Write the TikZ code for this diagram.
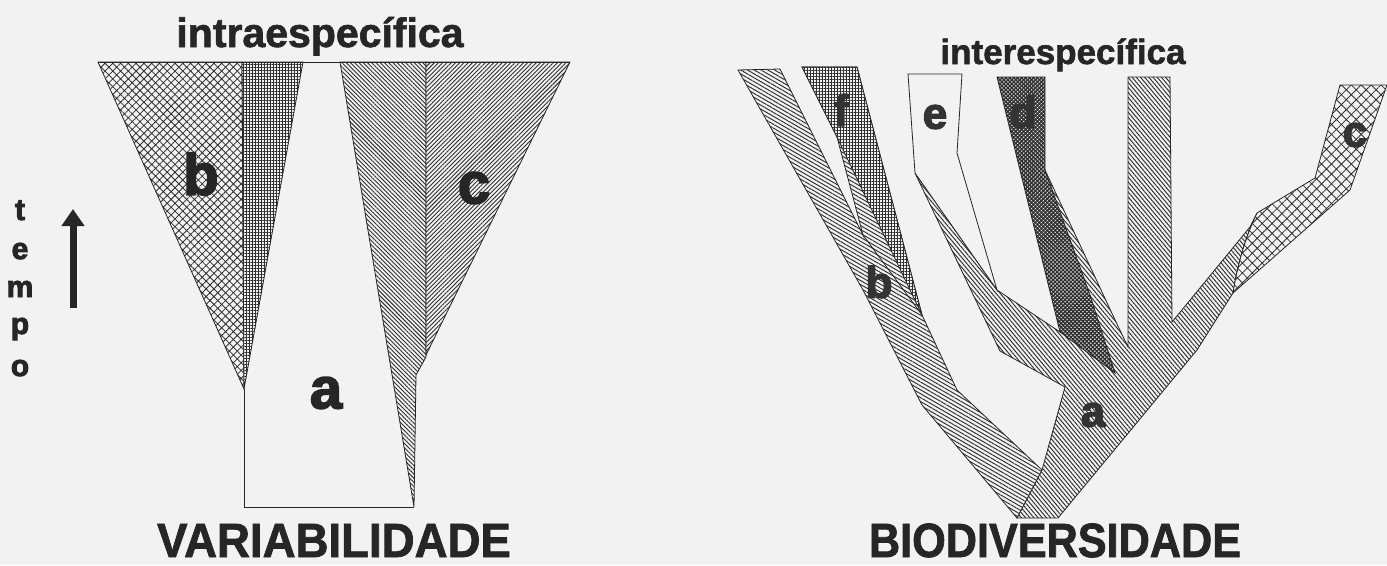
\documentclass[tikz,border=0pt]{standalone}
\usepackage{fontspec}
\setmainfont{Liberation Sans}
\newfontfamily\heavyfont{Liberation Sans}[BoldFeatures={FakeBold=1.6}]
\newfontfamily\blackfont{Liberation Sans}[BoldFeatures={FakeBold=3}]
\usetikzlibrary{patterns.meta,arrows.meta}
\definecolor{ink}{gray}{0.15}
\definecolor{paper}{gray}{0.95}
\definecolor{hatchc}{gray}{0.18}
\tikzset{
  outl/.style={draw=ink, line width=0.8pt, line join=miter},
  pat/.style={outl, preaction={fill=paper}, pattern color=hatchc},
  crossB/.style={pat, pattern={Hatch[angle=45,distance=5.5pt,line width=0.8pt]}},
  gridF/.style={pat, pattern={Hatch[angle=0,distance=3pt,line width=0.9pt]}},
  hatchL/.style={pat, pattern={Lines[angle=-45,distance=3pt,line width=0.9pt]}},
  hatchR/.style={pat, pattern={Lines[angle=45,distance=3pt,line width=0.9pt]}},
  hatchB/.style={pat, pattern={Lines[angle=-30,distance=3.4pt,line width=0.95pt]}},
  hatchA/.style={pat, pattern={Lines[angle=-50,distance=3.2pt,line width=0.95pt]}},
  darkD/.style={pat, pattern={Hatch[angle=45,distance=2.8pt,line width=1.4pt]}},
  crossC/.style={pat, pattern={Hatch[angle=45,distance=7pt,line width=0.8pt]}},
  whiteE/.style={outl, fill=paper},
  bigtitle/.style={anchor=base, inner sep=0pt, text=ink, font=\heavyfont\bfseries\fontsize{48}{48}\selectfont},
  subtitle/.style={anchor=base, inner sep=0pt, text=ink},
  lbl/.style={inner sep=0pt, text=ink, font=\blackfont\bfseries\fontsize{58}{58}\selectfont},
  rlbl/.style={inner sep=0pt, text=black!80, font=\blackfont\bfseries\fontsize{44}{44}\selectfont},
  tletter/.style={anchor=base, inner sep=0pt, text=ink, font=\blackfont\bfseries\fontsize{30}{30}\selectfont},
}
\begin{document}
\begin{tikzpicture}[x=1pt,y=-1pt]
\useasboundingbox (0,0) rectangle (1387,565);
\fill[paper] (0,0) rectangle (1387,565);

% ---------------- left panel: VARIABILIDADE ----------------
\draw[crossB] (98,62) -- (242,62) -- (244,389) -- cycle;
\draw[gridF] (242,62) -- (303,62) -- (244,389) -- cycle;
\draw[hatchL] (340,62) -- (426,62) -- (426,357) -- (416,375) -- (414,507) -- cycle;
\draw[hatchR] (426,62) -- (570,62) -- (426,355) -- cycle;
\draw[outl] (98,62) -- (570,62);
\draw[outl] (244,389) -- (244,507) -- (414,507);

\node[subtitle, font=\heavyfont\bfseries\fontsize{41}{41}\selectfont] (intra) at (320,47) {intraespecífica};
\node[bigtitle, xscale=0.95] (varia) at (334,557) {VARIABILIDADE};
\node[lbl] (lb) at (201,174) {b};
\node[lbl] (lc) at (474,188) {c};
\node[lbl] (la) at (326,393) {a};

\node[tletter] (t1) at (20,220) {t};
\node[tletter] (t2) at (20,259) {e};
\node[tletter] (t3) at (20,297) {m};
\node[tletter] (t4) at (20,334) {p};
\node[tletter] (t5) at (20,376) {o};
\coordinate (arrBase) at (73,308);
\coordinate (arrTip) at (73,209);
\draw[ink, line width=7pt, -{Triangle[width=22pt,length=17pt]}] (arrBase) -- (arrTip);

% ---------------- right panel: BIODIVERSIDADE ----------------
% trunk a with stems
\draw[hatchA] (1017,518) -- (1058,518) -- (1197,350) -- (1233,293)
  .. controls (1237,268) and (1244,240) .. (1257,213)
  -- (1250,227) -- (1172,322) -- (1170,77) -- (1128,77) -- (1128,347)
  -- (1116,322) -- (1045,170) -- (1060,332) -- (997,290) -- (915,173)
  -- (1000,351) -- (1065,387) -- (1042,470) -- cycle;
% branch b (with f stem)
\draw[hatchB] (738,70) -- (780,69) -- (863,235) -- (837,137) -- (802,67)
  -- (857,67) -- (922,315) -- (957,390) -- (1042,470) -- (1017,518)
  -- (922,405) -- (863,290) -- cycle;
\draw[outl] (863,235) -- (922,315);
% f
\draw[gridF] (802,67) -- (857,67) -- (922,315) -- (837,137) -- cycle;
% e
\draw[whiteE] (908,74) -- (962,74) -- (957,153) -- (997,290) -- (915,173) -- cycle;
% d
\draw[darkD] (997,77) -- (1045,77) -- (1045,170) -- (1090,295) -- (1115,373)
  -- (1060,332) -- cycle;
% c
\draw[crossC] (1257,213) -- (1315,178) -- (1340,85) -- (1387,85) -- (1350,190)
  -- (1233,293) .. controls (1237,268) and (1244,240) .. (1257,213) -- cycle;

\node[subtitle, font=\heavyfont\bfseries\fontsize{35}{35}\selectfont] (inter) at (1063,64) {interespecífica};
\node[bigtitle, xscale=0.9] (biod) at (1055,557) {BIODIVERSIDADE};
\node[rlbl] (rf) at (841,110) {f};
\node[rlbl] (re) at (935,117) {e};
\node[rlbl] (rd) at (1023,112) {d};
\node[rlbl] (rc) at (1355,135) {c};
\node[rlbl] (rb) at (879,282) {b};
\node[rlbl] (ra) at (1093,415) {a};
\end{tikzpicture}
\end{document}
